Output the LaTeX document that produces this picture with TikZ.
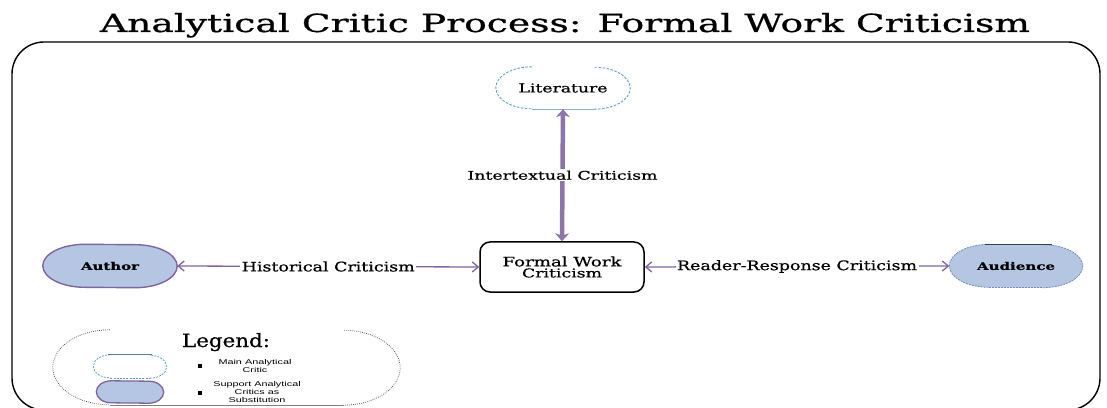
\documentclass[tikz,border=0pt]{standalone}
\usepackage{fontspec}
\setmainfont{DejaVu Serif}[FakeBold=0.6]
\newfontfamily\legsans{Liberation Sans}
\usetikzlibrary{arrows.meta,calc}
\pgfdeclarelayer{bg}
\pgfsetlayers{bg,main}
\definecolor{critpurple}{RGB}{128,100,162}
\definecolor{supfill}{RGB}{180,198,225}
\definecolor{litblue}{RGB}{95,160,205}
\definecolor{litline}{RGB}{140,172,196}
\definecolor{audborder}{RGB}{110,140,190}
\definecolor{audtop}{RGB}{55,65,85}
\definecolor{legteal}{RGB}{90,130,130}
\definecolor{leggray}{RGB}{70,70,70}
\newcommand\fitt[3]{\resizebox{#1pt}{#2pt}{#3}}
\newcommand\stad[3]{($(#1.north west)+(#2,0)$) arc[start angle=90,end angle=270,x radius=#2pt,y radius=#3pt] -- ($(#1.south east)+(-#2,0)$) arc[start angle=-90,end angle=90,x radius=#2pt,y radius=#3pt] -- cycle}
\newcommand\larc[3]{($(#1.north west)+(#2,0)$) arc[start angle=90,end angle=270,x radius=#2pt,y radius=#3pt]}
\newcommand\rarc[3]{($(#1.south east)+(-#2,0)$) arc[start angle=-90,end angle=90,x radius=#2pt,y radius=#3pt]}
\tikzset{
  shapebox/.style={draw=none,inner sep=0pt,minimum width=#1},
  lbl/.style={fill=white,inner sep=1.5pt},
  thinarrow/.style={critpurple,line width=1.3pt,{Straight Barb[length=6pt,width=10pt]}-{Straight Barb[length=6pt,width=10pt]}},
  thickarrow/.style={critpurple!90!white,line width=4.5pt,{Stealth[length=8pt,width=14pt,inset=2.5pt]}-{Stealth[length=8pt,width=14pt,inset=2.5pt]}},
  legline/.style={font=\legsans\fontsize{7}{8}\selectfont,align=center,inner sep=0pt},
  bulletbox/.style={fill=black,inner sep=0pt,minimum size=3.4pt}
}
\begin{document}
\begin{tikzpicture}[x=1pt,y=1pt]
\useasboundingbox (0,0) rectangle (1107,407);
% title
\node[anchor=base,inner sep=0pt] (title) at (565,375) {\fitt{930}{19}{Analytical Critic Process: Formal Work Criticism}};
% frame
\draw[line width=1.4pt,rounded corners=32pt] (12,365) rectangle (1100,-3);
% literature
\node[shapebox=134pt,minimum height=42pt] (lit) at (563,319) {\fitt{89}{9}{Literature}};
\draw[litblue,line width=0.9pt,dash pattern=on 2.5pt off 1.5pt] \larc{lit}{36}{21};
\draw[litblue,line width=0.9pt,dash pattern=on 2.5pt off 1.5pt] \rarc{lit}{36}{21};
\draw[litline,line width=1pt] ($(lit.south west)+(36,0)$) -- ($(lit.south east)+(-36,0)$);
% formal work
\node[draw,line width=1.5pt,rounded corners=10pt,minimum width=164pt,minimum height=50pt,align=center,inner sep=0pt,font=\fontsize{8}{12}\selectfont] (box) at (562,140) {\fitt{119}{10}{Formal Work}\\[-1pt]\fitt{80}{9}{Criticism}};
% author
\node[shapebox=134pt,minimum height=43pt] (au) at (110,141) {\fitt{58}{8}{\bfseries Author}};
\begin{pgfonlayer}{bg}
\fill[supfill] \stad{au}{42}{21.5};
\end{pgfonlayer}
\draw[critpurple,line width=1.4pt] \stad{au}{42}{21.5};
% audience
\node[shapebox=133pt,minimum height=43pt] (aud) at (1016,141) {\fitt{78}{8}{\bfseries Audience}};
\begin{pgfonlayer}{bg}
\fill[supfill] \stad{aud}{40}{21.5};
\end{pgfonlayer}
\draw[audborder,line width=0.8pt,dash pattern=on 2pt off 1pt] \larc{aud}{40}{21.5};
\draw[audborder,line width=0.8pt,dash pattern=on 2pt off 1pt] \rarc{aud}{40}{21.5};
\draw[audborder,line width=0.8pt,dash pattern=on 2pt off 1pt] ($(aud.south west)+(40,0)$) -- ($(aud.south east)+(-40,0)$);
\draw[audtop,line width=1pt] ($(aud.north west)+(36,0)$) -- ($(aud.north east)+(-31,0)$);
% connectors
\draw[thickarrow] (lit.south) -- (box.north) node[midway,lbl,text=black] (intl) {\fitt{190}{9}{Intertextual Criticism}};
\draw[thinarrow] (au.east) -- (box.west) node[midway,lbl,text=black] (histl) {\fitt{173}{10}{Historical Criticism}};
\draw[thinarrow] (box.east) -- (aud.west) node[midway,lbl,text=black] (readl) {\fitt{240}{10}{Reader-Response Criticism}};
% legend container
\node[shapebox=347pt,minimum height=75pt] (legend) at (226.5,39.5) {};
\draw[leggray,line width=0.7pt,dash pattern=on 0.8pt off 1.2pt] \larc{legend}{57}{37.5};
\draw[leggray,line width=0.7pt,dash pattern=on 0.8pt off 1.2pt] \rarc{legend}{57}{37.5};
\draw[gray,line width=1pt] ($(legend.south west)+(57,0)$) -- ($(legend.south east)+(-57,0)$);
\node[anchor=base,inner sep=0pt] (legt) at (226,60) {\fitt{88}{14}{Legend:}};
% legend items
\node[shapebox=73pt,minimum height=23pt] (leg1) at (130,40.5) {};
\draw[litblue,line width=0.8pt,dash pattern=on 2pt off 1.2pt] \larc{leg1}{17}{11.5};
\draw[litblue,line width=0.8pt,dash pattern=on 2pt off 1.2pt] \rarc{leg1}{17}{11.5};
\draw[litblue,line width=0.8pt,dash pattern=on 2pt off 1.2pt] ($(leg1.south west)+(17,0)$) -- ($(leg1.south east)+(-17,0)$);
\draw[legteal,line width=1pt] ($(leg1.north west)+(15,0)$) -- ($(leg1.north east)+(-15,0)$);
\node[shapebox=67pt,minimum height=22pt] (leg2) at (130,15) {};
\begin{pgfonlayer}{bg}
\fill[supfill] \stad{leg2}{15}{11};
\end{pgfonlayer}
\draw[critpurple,line width=1.3pt] \stad{leg2}{15}{11};
\node[bulletbox] (b1) at (200,41) {};
\node[bulletbox] (b2) at (200,14) {};
\node[legline] (lt1) at (255,41) {\scalebox{1.55}[1]{Main Analytical}\\\scalebox{1.55}[1]{Critic}};
\node[legline] (lt2) at (257,15) {\scalebox{1.55}[1]{Support Analytical}\\\scalebox{1.55}[1]{Critics as}\\\scalebox{1.55}[1]{Substitution}};
\end{tikzpicture}
\end{document}
